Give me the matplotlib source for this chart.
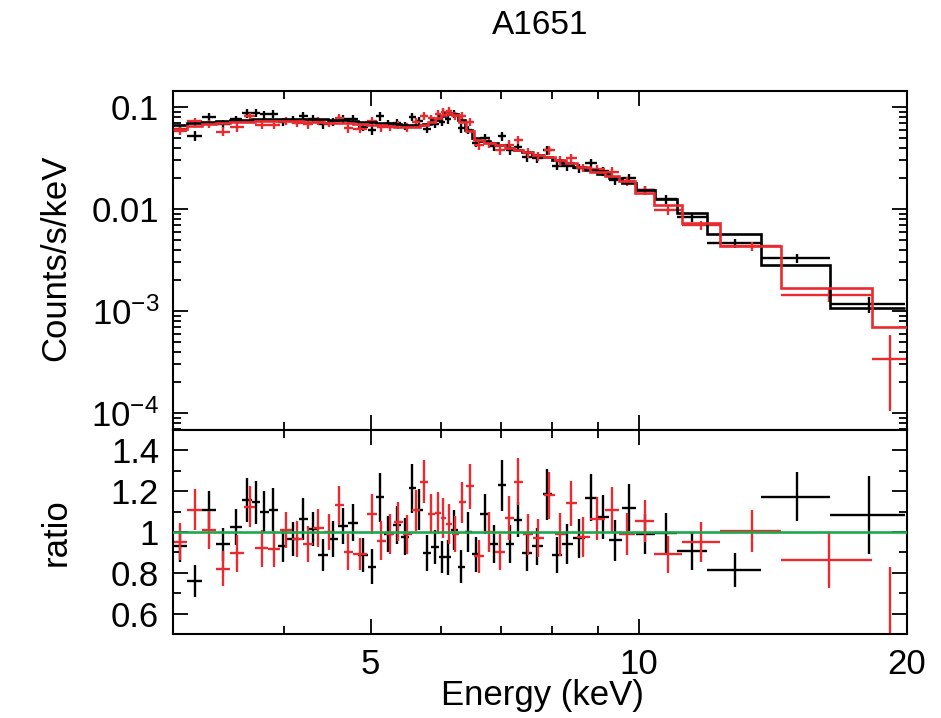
import matplotlib
matplotlib.use("Agg")
import matplotlib.pyplot as plt
import numpy as np
from matplotlib.ticker import FixedLocator, FixedFormatter, NullFormatter, MultipleLocator

plt.rcParams['font.family'] = ['Liberation Sans', 'DejaVu Sans']
plt.rcParams['mathtext.fontset'] = 'custom'
plt.rcParams['mathtext.rm'] = 'Liberation Sans'
plt.rcParams['mathtext.it'] = 'Liberation Sans:italic'

# black spectrum: channel edges (keV), folded model (counts/s/keV), data/model ratio and error
black_edges = [3.000, 3.114, 3.237, 3.356, 3.472, 3.590, 3.675, 3.752, 3.840, 3.931,
               4.033, 4.150, 4.248, 4.359, 4.473, 4.590, 4.711, 4.834, 4.960, 5.064,
               5.170, 5.292, 5.402, 5.515, 5.616, 5.719, 5.838, 5.960, 6.054, 6.149,
               6.261, 6.375, 6.492, 6.628, 6.801, 6.944, 7.089, 7.237, 7.389, 7.582,
               7.801, 7.985, 8.194, 8.430, 8.696, 8.971, 9.254, 9.571, 9.923, 10.42,
               11.03, 11.93, 13.71, 16.39, 19.90]
black_model = [0.066, 0.069, 0.072, 0.073, 0.074, 0.075, 0.076, 0.077, 0.077, 0.077,
               0.077, 0.077, 0.076, 0.076, 0.075, 0.074, 0.073, 0.072, 0.071, 0.070,
               0.069, 0.068, 0.067, 0.066, 0.066, 0.068, 0.074, 0.082, 0.087, 0.085,
               0.075, 0.060, 0.050, 0.046, 0.044, 0.042, 0.040, 0.038, 0.036, 0.034,
               0.032, 0.030, 0.028, 0.026, 0.024, 0.022, 0.020, 0.018, 0.0155, 0.0125,
               0.0092, 0.0057, 0.0028, 0.00108]
black_ratio = [0.93, 0.76, 1.11, 0.94, 1.025, 1.157, 1.146, 1.10, 1.11, 0.93,
               0.965, 1.064, 1.015, 0.887, 0.965, 1.03, 1.046, 0.887, 0.83, 1.17,
               0.99, 1.034, 0.977, 1.215, 1.11, 0.897, 0.926, 0.877, 0.876, 1.01,
               0.83, 1.0, 0.89, 1.088, 0.94, 1.23, 0.94, 1.06, 0.897, 0.93,
               1.185, 0.887, 0.94, 0.97, 1.168, 1.075, 0.96, 1.12, 0.99, 0.995,
               0.907, 0.814, 1.173, 1.083]
black_err = [0.075, 0.08, 0.09, 0.08, 0.09, 0.11, 0.105, 0.10, 0.105, 0.075,
             0.085, 0.105, 0.085, 0.08, 0.087, 0.09, 0.09, 0.085, 0.085, 0.12,
             0.09, 0.095, 0.09, 0.12, 0.10, 0.088, 0.085, 0.078, 0.085, 0.10,
             0.082, 0.097, 0.085, 0.10, 0.093, 0.125, 0.092, 0.085, 0.087, 0.09,
             0.125, 0.09, 0.097, 0.095, 0.115, 0.108, 0.10, 0.113, 0.10, 0.10,
             0.092, 0.083, 0.12, 0.19]

# red spectrum
red_edges = [3.000, 3.114, 3.237, 3.356, 3.472, 3.600, 3.713, 3.830, 3.951, 4.076,
             4.193, 4.303, 4.427, 4.555, 4.662, 4.772, 4.948, 5.077, 5.197, 5.305,
             5.430, 5.558, 5.674, 5.793, 5.899, 5.991, 6.069, 6.164, 6.277, 6.392,
             6.525, 6.696, 6.889, 7.070, 7.237, 7.408, 7.602, 7.821, 8.047, 8.279,
             8.518, 8.810, 9.159, 9.497, 9.898, 10.40, 11.18, 12.33, 14.44, 18.28,
             20.0]
red_model = [0.061, 0.065, 0.068, 0.070, 0.071, 0.072, 0.073, 0.073, 0.073, 0.073,
             0.072, 0.071, 0.070, 0.069, 0.069, 0.068, 0.067, 0.066, 0.065, 0.064,
             0.064, 0.064, 0.066, 0.071, 0.078, 0.084, 0.087, 0.083, 0.072, 0.058,
             0.048, 0.044, 0.042, 0.040, 0.038, 0.036, 0.034, 0.032, 0.030, 0.028,
             0.026, 0.023, 0.021, 0.019, 0.0145, 0.011, 0.0073, 0.0043, 0.00168, 0.000697]
red_ratio = [0.953, 1.11, 1.01, 0.82, 0.896, 1.124, 0.92, 0.916, 1.01, 0.965,
             0.94, 1.02, 1.0, 1.13, 0.9, 0.893, 1.088, 0.958, 0.99, 1.05,
             0.988, 1.107, 1.247, 1.09, 1.093, 1.069, 1.04, 0.99, 1.145, 1.225,
             0.88, 1.0, 0.9, 1.07, 1.247, 0.988, 0.97, 1.18, 0.988, 1.14,
             0.975, 1.066, 1.11, 0.99, 1.055, 0.89, 0.95, 1.005, 0.862, 0.49]
red_err = [0.09, 0.10, 0.093, 0.085, 0.09, 0.10, 0.09, 0.088, 0.09, 0.087,
           0.088, 0.092, 0.088, 0.097, 0.088, 0.078, 0.098, 0.095, 0.096, 0.096,
           0.097, 0.10, 0.106, 0.094, 0.102, 0.10, 0.098, 0.086, 0.10, 0.11,
           0.082, 0.10, 0.088, 0.107, 0.115, 0.102, 0.092, 0.115, 0.105, 0.11,
           0.097, 0.106, 0.112, 0.102, 0.104, 0.092, 0.098, 0.104, 0.135, 0.34]

BLACK = 'black'
RED = '#ea2a2f'
GREEN = '#1ea84e'

fig = plt.figure(figsize=(9.41, 7.18), dpi=100)
ax1 = fig.add_axes([173/941, 1-430/718, 734/941, 339/718])
ax2 = fig.add_axes([173/941, 1-634/718, 734/941, 204/718], sharex=ax1)

def draw_set(edges, model, ratio, err, color):
    edges = np.array(edges)
    model = np.array(model)
    ratio = np.array(ratio)
    err = np.array(err)
    lo, hi = edges[:-1], edges[1:]
    cen = (lo + hi) / 2
    xerr = [cen - lo, hi - cen]
    ax1.errorbar(cen, model * ratio, xerr=xerr, yerr=model * err, fmt='none',
                 ecolor=color, elinewidth=1.7, capsize=0, zorder=2)
    ax2.errorbar(cen, ratio, xerr=xerr, yerr=err, fmt='none',
                 ecolor=color, elinewidth=1.7, capsize=0, zorder=2)
    return model, edges

mb = draw_set(black_edges, black_model, black_ratio, black_err, BLACK)
mr = draw_set(red_edges, red_model, red_ratio, red_err, RED)
ax1.stairs(mb[0], mb[1], baseline=None, color=BLACK, lw=1.9, zorder=3)
ax1.stairs(mr[0], mr[1], baseline=None, color=RED, lw=1.9, zorder=4)
ax2.axhline(1.0, color=GREEN, lw=1.9, zorder=5)

for ax in (ax1, ax2):
    ax.set_xscale('log')
    ax.set_xlim(3, 20)
    ax.xaxis.set_major_locator(FixedLocator([5, 10, 20]))
    ax.xaxis.set_minor_locator(FixedLocator([4, 6, 7, 8, 9]))
    ax.xaxis.set_minor_formatter(NullFormatter())
    ax.tick_params(which='both', direction='in', top=True, right=True, width=1.3,
                   labelsize=25, pad=10)
    ax.tick_params(which='major', length=11)
    ax.tick_params(which='minor', length=5.5)
    for s in ax.spines.values():
        s.set_linewidth(1.5)

ax1.tick_params(axis='x', which='both', labelbottom=False)
ax2.xaxis.set_major_formatter(FixedFormatter(['5', '10', '20']))

ax1.set_yscale('log')
ax1.set_ylim(6.8e-5, 0.1436)
ax1.yaxis.set_major_locator(FixedLocator([1e-4, 1e-3, 1e-2, 1e-1]))
ax1.yaxis.set_major_formatter(FixedFormatter([r'$10^{-4}$', r'$10^{-3}$', '0.01', '0.1']))
ax1.yaxis.set_minor_formatter(NullFormatter())

ax2.set_ylim(0.5, 1.5)
ax2.yaxis.set_major_locator(FixedLocator([0.6, 0.8, 1.0, 1.2, 1.4]))
ax2.yaxis.set_major_formatter(FixedFormatter(['0.6', '0.8', '1', '1.2', '1.4']))
ax2.yaxis.set_minor_locator(MultipleLocator(0.1))

fig.text(540/941, 1-25/718, 'A1651', ha='center', va='center', fontsize=24)
fig.text(56/941, 1-258/718, 'Counts/s/keV', rotation=90, ha='center', va='center', fontsize=25)
fig.text(56/941, 1-532/718, 'ratio', rotation=90, ha='center', va='center', fontsize=25)
fig.text(542/941, 1-695/718, 'Energy (keV)', ha='center', va='center', fontsize=25)

fig.savefig('out.png', dpi=100)
